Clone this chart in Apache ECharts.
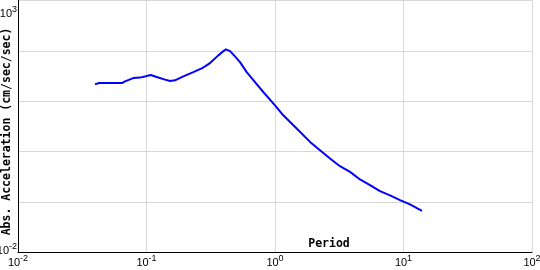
<!DOCTYPE html>
<html>
<head>
<meta charset="utf-8">
<script src="https://cdn.jsdelivr.net/npm/echarts@6/dist/echarts.min.js"></script>
<style>html,body{margin:0;padding:0;background:#fff}#c{width:540px;height:270px}</style>
</head>
<body>
<div id="c"></div>
<script>
const periods = [0.0397,0.0427,0.0520,0.0645,0.0680,0.0789,0.0890,0.1004,0.1078,0.1200,0.1393,0.1524,0.1666,0.1934,0.2313,0.2690,0.2853,0.3120,0.3621,0.3938,0.4156,0.4466,0.4884,0.5340,0.6022,0.6990,0.8107,1.000,1.160,1.475,1.873,2.240,2.679,3.204,3.834,4.586,5.487,6.563,7.853,9.393,11.23,13.93];
const accel = [21.7,23.0,23.0,23.0,24.9,28.9,29.5,31.7,33.2,30.3,26.9,25.2,26.1,31.3,38.0,45.0,49.3,57.3,81.5,97.7,107.1,99.1,77.8,60.0,38.0,24.1,15.3,8.33,5.28,2.88,1.564,1.071,0.733,0.516,0.398,0.2815,0.2171,0.1651,0.1357,0.1096,0.0901,0.0672];
const xAxisName = 'Period';
const yAxisName = 'Abs. Acceleration (cm/sec/sec)';

const chart = echarts.init(document.getElementById('c'));
const rich = {
  b: {fontFamily: 'Liberation Sans', fontSize: 11, color: '#000'},
  s: {fontFamily: 'Liberation Sans', fontSize: 9, color: '#000', padding: [0,0,8,0]},
  et: {fontSize: 1, lineHeight: 27},
  eb: {fontSize: 1, lineHeight: 4}
};
function expOf(v){ return Math.round(Math.log10(v)); }
chart.setOption({
  animation: false,
  grid: {left: 18, right: 8, top: 0.5, bottom: 17.5, containLabel: false, outerBoundsMode: 'none'},
  xAxis: {
    type: 'log', logBase: 10, min: 0.01, max: 100,
    name: xAxisName, nameLocation: 'middle', nameGap: -14, nameMoveOverlap: false,
    nameTextStyle: {fontFamily: 'DejaVu Sans Mono', fontWeight: 'bold', fontSize: 11.5, color: '#000', padding: [0,0,0,108]},
    axisLine: {show: true, lineStyle: {color: '#000', width: 1}},
    axisTick: {show: false},
    splitLine: {show: true, lineStyle: {color: '#d8d8d8', width: 1}},
    axisLabel: {margin: 2, formatter: v => '{b|10}{s|' + expOf(v) + '}', rich: rich}
  },
  yAxis: {
    type: 'log', logBase: 10, min: 0.01, max: 1000,
    name: yAxisName, nameLocation: 'middle', nameGap: 5, nameRotate: 90, nameMoveOverlap: false,
    nameTextStyle: {fontFamily: 'DejaVu Sans Mono', fontWeight: 'bold', fontSize: 11.5, color: '#000', padding: [0,10,0,0]},
    axisLine: {show: true, lineStyle: {color: '#000', width: 1}},
    axisTick: {show: false},
    splitLine: {show: true, lineStyle: {color: '#d8d8d8', width: 1}},
    axisLabel: {margin: 1, formatter: function(v){
      const e = expOf(v);
      if (e === 3) return '{et| }\n{b|10}{s|3}';
      if (e === -2) return '{b|10}{s|-2}\n{eb| }';
      return '';
    }, rich: rich}
  },
  series: [{
    type: 'line',
    data: periods.map((p, i) => [p, accel[i]]),
    showSymbol: false,
    smooth: false,
    lineStyle: {color: '#0000ff', width: 2},
    itemStyle: {color: '#0000ff'}
  }]
});
</script>
</body>
</html>
